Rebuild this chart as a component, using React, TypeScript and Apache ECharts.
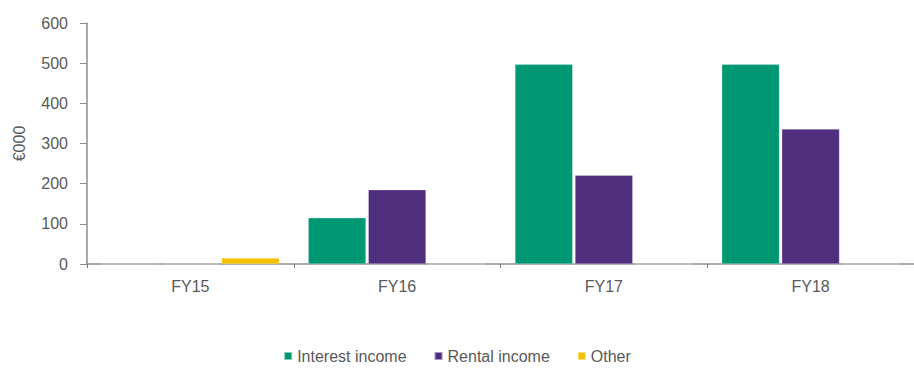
import React, { useEffect, useRef } from "react";
import * as echarts from "echarts";

const categories = ["FY15", "FY16", "FY17", "FY18"];
const interestIncome = [0, 115, 497, 497];
const rentalIncome = [0, 185, 221, 336];
const other = [15, 0, 0, 0];
const yTicks = { min: 0, max: 600, interval: 100 };

const textColor = "#595959";
const font = "Liberation Sans";

export default function App() {
  const ref = useRef<HTMLDivElement>(null);
  useEffect(() => {
    if (!ref.current) return;
    const chart = echarts.init(ref.current, undefined, { renderer: "svg" });
    const barStyle = (color: string) => ({ color, borderColor: "rgba(255,255,255,0.5)", borderWidth: 0.5 });
    chart.setOption({
      animation: false,
      grid: { left: 87, right: -7, top: 23, bottom: 105, containLabel: false },
      legend: {
        top: 343,
        left: "center",
        padding: [5, 5, 5, 5],
        icon: "rect",
        itemWidth: 8,
        itemHeight: 8,
        itemGap: 27,
        textStyle: { color: textColor, fontSize: 16, fontFamily: font },
        data: ["Interest income", "Rental income", "Other"],
      },
      xAxis: {
        type: "category",
        data: categories,
        axisLine: { lineStyle: { color: "#8c8c8c", width: 1.5 } },
        axisTick: { show: true, length: 4, alignWithLabel: false, lineStyle: { color: "#7a7a7a" } },
        axisLabel: { color: textColor, fontSize: 16, fontFamily: font, margin: 14 },
      },
      yAxis: {
        type: "value",
        min: yTicks.min,
        max: yTicks.max,
        interval: yTicks.interval,
        name: "€000",
        nameLocation: "middle",
        nameGap: 60,
        nameRotate: 90,
        nameTextStyle: { color: textColor, fontSize: 16, fontFamily: font },
        splitLine: { show: false },
        axisLine: { show: true, lineStyle: { color: "#8c8c8c", width: 1.5 } },
        axisTick: { show: true, length: 7, lineStyle: { color: "#8c8c8c" } },
        axisLabel: { color: textColor, fontSize: 16, fontFamily: font, margin: 19 },
      },
      series: [
        { name: "Interest income", type: "bar", data: interestIncome, itemStyle: barStyle("#009873"), barGap: "4%", barCategoryGap: "14%" },
        { name: "Rental income", type: "bar", data: rentalIncome, itemStyle: barStyle("#4f2e7e"), barGap: "4%", barCategoryGap: "14%" },
        { name: "Other", type: "bar", data: other, itemStyle: barStyle("#f5c000"), barGap: "4%", barCategoryGap: "14%" },
      ],
    });
    return () => chart.dispose();
  }, []);
  return (
    <div
      ref={ref}
      style={{ position: "absolute", left: 0, top: 0, width: 914, height: 369, background: "#fff" }}
    />
  );
}
